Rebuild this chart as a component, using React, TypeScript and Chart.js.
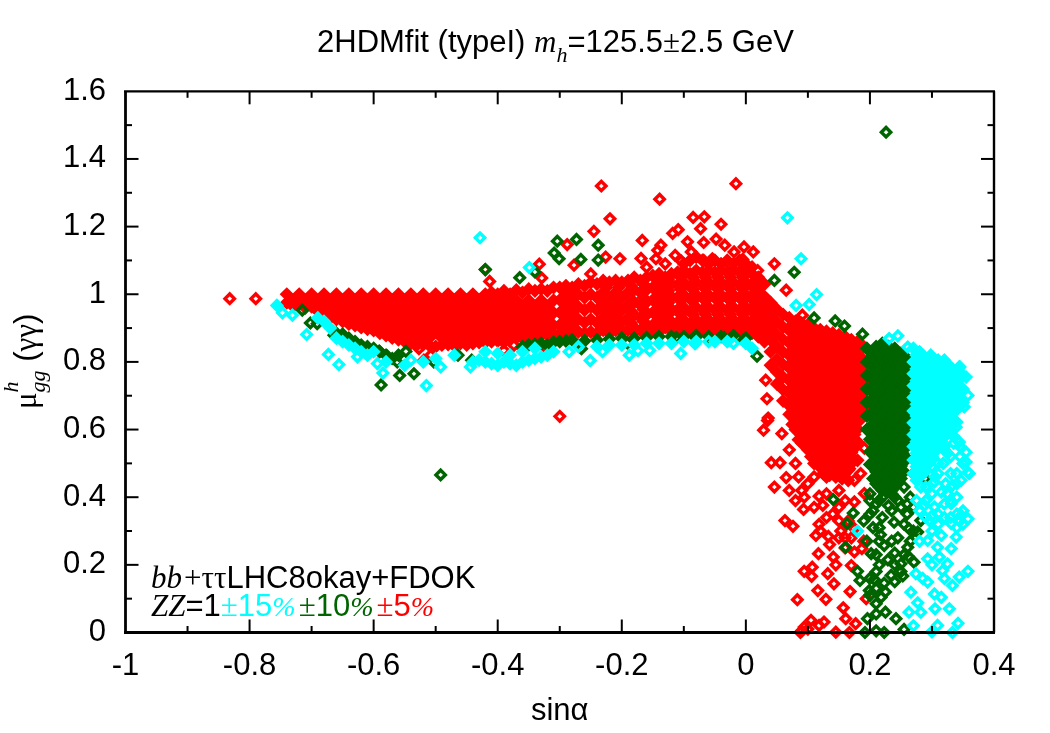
import React, { useEffect, useRef } from "react";
import { Chart, registerables } from "chart.js";

Chart.register(...registerables);

const titleRuns = ["2HDMfit (typeI) ", "m", "h", "=125.5", "±", "2.5 GeV"];
const xAxisTitle = "sinα";
const legendLine1 = ["bb", "+", "ττ", "LHC8okay+FDOK"];
const legendLine2 = ["ZZ", "=1", "±", "15", "%", "±", "10", "%", "±", "5", "%"];
const yTitleRuns = ["μ", "gg", "h", " (", "γγ", ")"];

const xTickLabels = ["-1", "-0.8", "-0.6", "-0.4", "-0.2", "0", "0.2", "0.4"];
const yTickLabels = ["0", "0.2", "0.4", "0.6", "0.8", "1", "1.2", "1.4", "1.6"];
const xMajorTicks = [-0.8, -0.6, -0.4, -0.2, 0, 0.2];
const xMinorTicks = [-0.9, -0.7, -0.5, -0.3, -0.1, 0.1, 0.3];
const yMajorTicks = [0.2, 0.4, 0.6, 0.8, 1, 1.2, 1.4];
const yMinorTicks = [0.1, 0.3, 0.5, 0.7, 0.9, 1.1, 1.3, 1.5];

// Each row: x, then the y values read at that x
const cyanCore = [
  [0.27, 0.84, 0.8, 0.765, 0.73, 0.695, 0.655, 0.62, 0.585, 0.55, 0.51, 0.47],
  [0.275, 0.82, 0.78, 0.745, 0.71, 0.675, 0.64, 0.6, 0.565, 0.53, 0.49, 0.45],
  [0.28, 0.83, 0.79, 0.755, 0.72, 0.68, 0.645, 0.61, 0.57, 0.535, 0.5, 0.46],
  [0.285, 0.82, 0.78, 0.745, 0.71, 0.67, 0.635, 0.6, 0.56, 0.525, 0.49],
  [0.29, 0.81, 0.773, 0.736, 0.699, 0.662, 0.625, 0.588, 0.551, 0.514, 0.477],
  [0.295, 0.8, 0.76, 0.72, 0.685, 0.65, 0.61, 0.575, 0.54, 0.5],
  [0.3, 0.815, 0.778, 0.741, 0.704, 0.667, 0.63, 0.593, 0.556, 0.52],
  [0.305, 0.795, 0.76, 0.725, 0.685, 0.65, 0.61, 0.575, 0.535],
  [0.31, 0.805, 0.768, 0.731, 0.694, 0.657, 0.62, 0.583, 0.546],
  [0.315, 0.785, 0.75, 0.71, 0.675, 0.64, 0.6, 0.565],
  [0.32, 0.8, 0.763, 0.726, 0.689, 0.652, 0.615, 0.578, 0.54],
  [0.325, 0.78, 0.745, 0.705, 0.67, 0.635, 0.595],
  [0.33, 0.785, 0.748, 0.711, 0.674, 0.637, 0.6],
  [0.335, 0.765, 0.73, 0.69, 0.655, 0.62, 0.58],
  [0.34, 0.77, 0.733, 0.696, 0.659, 0.622],
  [0.345, 0.785, 0.75, 0.71, 0.67],
  [0.35, 0.76, 0.72, 0.68],
  [-0.44, 0.8], [-0.43, 0.805], [-0.42, 0.8, 0.83], [-0.41, 0.795], [-0.4, 0.79, 0.825], [-0.39, 0.8],
  [-0.38, 0.795, 0.82], [-0.37, 0.79], [-0.36, 0.8, 0.83], [-0.35, 0.805], [-0.34, 0.81, 0.84], [-0.33, 0.815],
  [-0.32, 0.82], [-0.31, 0.83], [-0.69, 0.93], [-0.68, 0.92], [-0.67, 0.9], [-0.66, 0.87], [-0.65, 0.86],
  [-0.64, 0.85], [-0.63, 0.84], [-0.62, 0.83], [-0.61, 0.82], [-0.756, 0.967],
  [-0.6, 0.83], [-0.58, 0.8], [-0.55, 0.79], [-0.52, 0.8], [-0.5, 0.81], [-0.47, 0.82],
  [-0.24, 0.845], [-0.22, 0.85], [-0.2, 0.85], [-0.18, 0.85], [-0.16, 0.855], [-0.14, 0.855], [-0.12, 0.855],
  [-0.1, 0.86], [-0.08, 0.86], [-0.05, 0.86], [-0.03, 0.86], [0, 0.855], [0.01, 0.84],
];
const cyanOpen = [
  [-0.4285, 1.167], [-0.349, 1.079], [0.067, 1.226], [0.089, 1.105], [0.114, 0.999], [0.102, 0.97], [0.081, 0.967],
  [-0.747, 0.945], [-0.731, 0.938], [-0.708, 0.881], [-0.673, 0.822], [-0.656, 0.792], [-0.626, 0.815], [-0.585, 0.767],
  [-0.515, 0.73], [-0.594, 0.795], [-0.492, 0.785], [-0.54, 0.805], [-0.444, 0.785], [-0.251, 0.804], [-0.231, 0.83],
  [-0.188, 0.82], [-0.174, 0.833], [-0.155, 0.834], [-0.105, 0.825], [-0.082, 0.854], [-0.285, 0.83], [-0.27, 0.845],
  [-0.06, 0.86], [-0.02, 0.855], [0.245, 0.877], [0.231, 0.869], [0.261, 0.844], [0.344, 0.785], [0.355, 0.755],
  [0.358, 0.701], [0.352, 0.667], [0.32, 0.805], [0.298, 0.82], [0.358, 0.181], [0.344, 0.164], [0.333, 0.139],
  [0.328, 0.07], [0.342, 0.027], [0.333, 0], [0.3, 0.002], [0.309, 0.021], [0.282, 0.06], [0.263, 0.06],
  [0.277, 0.088], [0.266, 0.119], [0.293, 0.149], [0.304, 0.114], [0.315, 0.104], [0.274, 0.174], [0.293, 0.218],
  [0.317, 0.183], [0.325, 0.203], [0.312, 0.223], [0.331, 0.248], [0.309, 0.252], [0.293, 0.272], [0.315, 0.287],
  [0.339, 0.282], [0.358, 0.336], [0.347, 0.346], [0.331, 0.381], [0.304, 0.371], [0.288, 0.376], [0.296, 0.331],
  [0.331, 0.322], [0.358, 0.474], [0.347, 0.45], [0.333, 0.435], [0.315, 0.415], [0.355, 0.504], [0.355, 0.533],
  [0.344, 0.563], [0.339, 0.607], [0.347, 0.672], [0.282, 0.43], [0.304, 0.445], [0.282, 0.5], [0.318, 0.5],
  [0.33, 0.52], [0.31, 0.47], [0.322, 0.44], [0.3, 0.41], [0.34, 0.47], [0.32, 0.55], [0.335, 0.56], [0.345, 0.52],
  [0.345, 0.33], [0.32, 0.34], [0.34, 0.31], [0.35, 0.32], [0.31, 0.32], [0.29, 0.34], [0.275, 0.39], [0.28, 0.27],
  [0.3, 0.3], [0.285, 0.16], [0.3, 0.2], [0.305, 0.07], [0.32, 0.16], [0.27, 0.02], [0.18, 0.3],
  [0.3, 0.49], [0.29, 0.43], [0.31, 0.5], [0.33, 0.47], [0.34, 0.44], [0.35, 0.5], [0.36, 0.47], [0.345, 0.55],
  [0.33, 0.39], [0.32, 0.38], [0.34, 0.35], [0.33, 0.34], [0.31, 0.35], [0.3, 0.345], [0.29, 0.39], [0.28, 0.36],
  [0.35, 0.36], [0.325, 0.41], [0.34, 0.4], [0.305, 0.46], [0.325, 0.53],
];
const greenCore = [
  [0.195, 0.84, 0.8, 0.76, 0.72, 0.68, 0.64, 0.6],
  [0.2, 0.83, 0.793, 0.756, 0.719, 0.682, 0.645, 0.608, 0.571, 0.534, 0.497],
  [0.205, 0.82, 0.785, 0.75, 0.71, 0.675, 0.64, 0.6, 0.565, 0.53, 0.49, 0.455],
  [0.21, 0.845, 0.808, 0.771, 0.734, 0.697, 0.66, 0.623, 0.586, 0.549, 0.512, 0.475, 0.44],
  [0.215, 0.83, 0.795, 0.755, 0.72, 0.685, 0.645, 0.61, 0.57, 0.535, 0.5, 0.46, 0.43],
  [0.22, 0.855, 0.82, 0.783, 0.746, 0.709, 0.672, 0.635, 0.598, 0.561, 0.524, 0.487, 0.45, 0.42],
  [0.225, 0.835, 0.8, 0.765, 0.725, 0.69, 0.655, 0.615, 0.58, 0.54, 0.505, 0.47, 0.43],
  [0.23, 0.845, 0.808, 0.771, 0.734, 0.697, 0.66, 0.623, 0.586, 0.549, 0.512, 0.475, 0.44],
  [0.235, 0.825, 0.79, 0.75, 0.715, 0.68, 0.64, 0.605, 0.565, 0.53, 0.49, 0.455, 0.42],
  [0.24, 0.84, 0.803, 0.766, 0.729, 0.692, 0.655, 0.618, 0.581, 0.544, 0.507, 0.47, 0.43],
  [0.245, 0.82, 0.785, 0.745, 0.71, 0.675, 0.635, 0.6, 0.56, 0.525, 0.49, 0.45],
  [0.25, 0.825, 0.788, 0.751, 0.714, 0.677, 0.64, 0.603, 0.566, 0.529, 0.492, 0.455],
  [0.255, 0.805, 0.77, 0.73, 0.695, 0.66, 0.62, 0.585, 0.545, 0.51, 0.475],
  [0.26, 0.81, 0.773, 0.736, 0.699, 0.662, 0.625, 0.588, 0.551, 0.514],
  [0.265, 0.79, 0.75, 0.715, 0.68, 0.64, 0.605, 0.57],
  [-0.36, 0.845], [-0.35, 0.85], [-0.34, 0.852], [-0.33, 0.855], [-0.32, 0.85], [-0.31, 0.858], [-0.3, 0.86],
  [-0.29, 0.862], [-0.28, 0.865], [-0.66, 0.885], [-0.65, 0.875], [-0.64, 0.87], [-0.63, 0.86], [-0.62, 0.85],
  [-0.61, 0.845], [-0.6, 0.84], [-0.59, 0.83], [-0.58, 0.82], [-0.57, 0.81], [-0.56, 0.82],
  [-0.26, 0.862], [-0.24, 0.865], [-0.22, 0.868], [-0.2, 0.87], [-0.18, 0.87], [-0.16, 0.872], [-0.14, 0.875],
  [-0.12, 0.875], [-0.1, 0.875], [-0.08, 0.878], [-0.06, 0.875], [-0.04, 0.875], [-0.02, 0.878], [0, 0.87],
];
const greenOpen = [
  [0.226, 1.479], [-0.492, 0.466], [-0.42, 1.073], [-0.3645, 1.049], [-0.34, 1.066], [-0.304, 1.157], [-0.309, 1.122],
  [-0.301, 1.105], [-0.273, 1.162], [-0.238, 1.145], [-0.266, 1.103], [-0.238, 1.101], [0.078, 1.065], [0.046, 1.041],
  [0.11, 0.93], [0.144, 0.921], [0.159, 0.906], [0.188, 0.882], [-0.588, 0.732], [-0.558, 0.76], [-0.535, 0.765],
  [-0.562, 0.8], [-0.578, 0.817], [-0.605, 0.834], [-0.591, 0.832], [-0.548, 0.831], [-0.503, 0.8], [-0.464, 0.82],
  [-0.442, 0.805], [-0.664, 0.879], [-0.65, 0.882], [-0.702, 0.915], [-0.715, 0.953], [-0.691, 0.913],
  [-0.265, 0.839], [-0.191, 0.856], [-0.112, 0.872], [-0.081, 0.872], [-0.035, 0.872], [-0.004, 0.864], [0.018, 0.817],
  [0.141, 0.393], [0.173, 0.353], [0.163, 0.322], [0.217, 0.289], [0.161, 0.252], [0.202, 0.233], [0.223, 0.257],
  [0.245, 0.28], [0.263, 0.307], [0.239, 0.326], [0.282, 0.331], [0.277, 0.297], [0.261, 0.252], [0.271, 0.208],
  [0.229, 0.215], [0.25, 0.203], [0.253, 0.167], [0.234, 0.169], [0.18, 0.181], [0.184, 0.154], [0.207, 0.157],
  [0.223, 0.146], [0.199, 0.124], [0.218, 0.104], [0.21, 0.085], [0.242, 0.041], [0.21, 0.055], [0.196, 0.041],
  [0.255, 0.009], [0.192, 0], [0.223, 0], [0.21, 0.005], [0.265, 0.4], [0.289, 0.455], [0.28, 0.504], [0.253, 0.529],
  [0.278, 0.647], [0.28, 0.603], [0.287, 0.782], [0.279, 0.826], [0.287, 0.696], [0.276, 0.648], [0.27, 0.47],
  [0.215, 0.39], [0.23, 0.375], [0.245, 0.39], [0.205, 0.36], [0.22, 0.34], [0.26, 0.35], [0.205, 0.31], [0.195, 0.27],
  [0.24, 0.235], [0.262, 0.225], [0.215, 0.2], [0.21, 0.18], [0.24, 0.15], [0.2, 0.41], [0.235, 0.41], [0.255, 0.43],
  [0.2, 0.39], [0.21, 0.38], [0.22, 0.4], [0.24, 0.4], [0.25, 0.37], [0.26, 0.38], [0.27, 0.37], [0.235, 0.36],
  [0.2, 0.35], [0.19, 0.33], [0.255, 0.32], [0.215, 0.31], [0.27, 0.3], [0.265, 0.27], [0.215, 0.27], [0.235, 0.27],
  [0.21, 0.23], [0.255, 0.23], [0.24, 0.2], [0.25, 0.18], [0.21, 0.13], [0.2, 0.11], [0.2, 0.16], [0.225, 0.12], [0.225, 0.06],
];
const redBandLeft = [
  [-0.74, 1, 0.975], [-0.73, 0.982, 0.965], [-0.72, 1, 0.97], [-0.71, 0.982, 0.96], [-0.7, 1, 0.963],
  [-0.69, 0.982, 0.95], [-0.68, 1, 0.963, 0.94], [-0.67, 0.982, 0.945, 0.93], [-0.66, 1, 0.963, 0.926],
  [-0.65, 0.982, 0.945, 0.92], [-0.64, 1, 0.963, 0.926, 0.912], [-0.63, 0.982, 0.945, 0.908],
  [-0.62, 1, 0.963, 0.926, 0.902], [-0.61, 0.982, 0.945, 0.908, 0.897], [-0.6, 1, 0.963, 0.926, 0.893],
  [-0.59, 0.982, 0.945, 0.908, 0.885], [-0.58, 1, 0.963, 0.926, 0.889, 0.878], [-0.57, 0.982, 0.945, 0.908, 0.871],
  [-0.56, 1, 0.963, 0.926, 0.889, 0.866], [-0.55, 0.982, 0.945, 0.908, 0.871, 0.86],
  [-0.54, 1, 0.963, 0.926, 0.889, 0.855], [-0.53, 0.982, 0.945, 0.908, 0.871, 0.85],
  [-0.52, 1, 0.963, 0.926, 0.889, 0.852], [-0.51, 0.982, 0.945, 0.908, 0.871, 0.848],
];
const redBandMiddle = [
  [-0.5, 1, 0.963, 0.926, 0.889, 0.845], [-0.49, 0.982, 0.945, 0.908, 0.871, 0.85],
  [-0.48, 1, 0.963, 0.926, 0.889, 0.852], [-0.47, 0.982, 0.945, 0.908, 0.871, 0.848],
  [-0.46, 1, 0.963, 0.926, 0.889, 0.855], [-0.45, 0.982, 0.945, 0.908, 0.871, 0.85],
  [-0.44, 1, 0.963, 0.926, 0.889, 0.855], [-0.43, 0.982, 0.945, 0.908, 0.871, 0.858],
  [-0.42, 1, 0.963, 0.926, 0.889, 0.858], [-0.41, 1.005, 0.982, 0.945, 0.908, 0.871, 0.86],
  [-0.4, 1, 0.963, 0.926, 0.889, 0.862], [-0.39, 1.01, 0.982, 0.945, 0.908, 0.871, 0.858],
  [-0.38, 1, 0.963, 0.926, 0.889, 0.866], [-0.37, 1.012, 0.982, 0.945, 0.908, 0.871],
  [-0.36, 1.005, 0.963, 0.926, 0.889, 0.87], [-0.35, 1.015, 0.982, 0.945, 0.908, 0.875],
  [-0.34, 1.01, 0.963, 0.926, 0.889, 0.875], [-0.33, 1.015, 0.982, 0.945, 0.908, 0.878],
  [-0.32, 1.01, 0.963, 0.926, 0.889, 0.88], [-0.31, 1.02, 0.982, 0.945, 0.908, 0.882],
  [-0.3, 1.02, 0.983, 0.946, 0.909, 0.885], [-0.29, 1.025, 1, 0.963, 0.926, 0.889],
  [-0.28, 1.02, 0.983, 0.946, 0.909, 0.885], [-0.27, 1.03, 1, 0.963, 0.926, 0.889],
  [-0.26, 1.025, 0.99, 0.953, 0.916, 0.885], [-0.25, 1.035, 1, 0.963, 0.926, 0.889],
];
const redBandRight = [
  [-0.24, 1.03, 0.99, 0.953, 0.916, 0.885], [-0.23, 1.04, 1.005, 0.968, 0.931, 0.894],
  [-0.22, 1.035, 0.99, 0.953, 0.916, 0.885], [-0.21, 1.04, 1.005, 0.968, 0.931, 0.894],
  [-0.2, 1.035, 0.99, 0.953, 0.916, 0.888], [-0.19, 1.04, 1.005, 0.968, 0.931, 0.894],
  [-0.18, 1.05, 1.013, 0.976, 0.939, 0.902, 0.888], [-0.17, 1.04, 1.005, 0.968, 0.931, 0.894],
  [-0.16, 1.05, 1.013, 0.976, 0.939, 0.902, 0.888], [-0.15, 1.055, 1.02, 0.983, 0.946, 0.909, 0.89],
  [-0.14, 1.06, 1.03, 0.993, 0.956, 0.919, 0.89], [-0.13, 1.05, 1.013, 0.976, 0.939, 0.902],
  [-0.12, 1.06, 1.03, 0.993, 0.956, 0.919, 0.89], [-0.11, 1.065, 1.028, 0.991, 0.954, 0.917, 0.892],
  [-0.1, 1.07, 1.035, 0.998, 0.961, 0.924, 0.895], [-0.09, 1.06, 1.023, 0.986, 0.949, 0.912, 0.893],
  [-0.08, 1.07, 1.035, 0.998, 0.961, 0.924, 0.895], [-0.07, 1.065, 1.028, 0.991, 0.954, 0.917, 0.893],
  [-0.06, 1.07, 1.035, 0.998, 0.961, 0.924, 0.895], [-0.05, 1.065, 1.028, 0.991, 0.954, 0.917, 0.893],
  [-0.04, 1.07, 1.035, 0.998, 0.961, 0.924, 0.89], [-0.03, 1.065, 1.028, 0.991, 0.954, 0.917, 0.893],
  [-0.02, 1.07, 1.035, 0.998, 0.961, 0.924, 0.89], [-0.01, 1.065, 1.028, 0.991, 0.954, 0.917, 0.893],
  [0, 1.07, 1.035, 0.998, 0.961, 0.924, 0.89], [0.01, 1.06, 1.023, 0.986, 0.949, 0.912, 0.885],
  [0.02, 1.05, 1.013, 0.976, 0.939, 0.902, 0.875], [0.03, 1.03, 0.993, 0.956, 0.919, 0.882, 0.86],
];
const redBandFill = [
  [-0.225, 1.02, 0.975, 0.94, 0.905], [-0.205, 1.02, 0.985, 0.95, 0.91], [-0.185, 1.025, 0.985, 0.95, 0.915],
  [-0.165, 1.03, 0.99, 0.955, 0.92], [-0.145, 1.045, 1.01, 0.975, 0.94, 0.905], [-0.125, 1.045, 1.01, 0.975, 0.94, 0.905],
  [-0.105, 1.05, 1.015, 0.98, 0.94, 0.905], [-0.085, 1.05, 1.015, 0.98, 0.94, 0.905], [-0.065, 1.05, 1.015, 0.98, 0.94, 0.905],
  [-0.045, 1.05, 1.015, 0.98, 0.94, 0.905], [-0.025, 1.05, 1.015, 0.98, 0.94, 0.905], [-0.005, 1.05, 1.015, 0.98, 0.94, 0.905],
  [0.015, 1.04, 1.005, 0.97, 0.93, 0.895], [-0.1, 1.09], [-0.09, 1.1], [-0.08, 1.11], [-0.07, 1.1], [-0.06, 1.09],
  [-0.05, 1.1], [-0.04, 1.09], [-0.03, 1.1], [-0.02, 1.09], [-0.01, 1.1], [0, 1.09], [0.01, 1.08],
];
const redWedge = [
  [0.04, 0.975, 0.938, 0.901, 0.864, 0.83, 0.79],
  [0.05, 0.955, 0.918, 0.881, 0.844, 0.807, 0.77, 0.735],
  [0.06, 0.94, 0.903, 0.866, 0.829, 0.792, 0.755, 0.718, 0.685],
  [0.07, 0.93, 0.893, 0.856, 0.819, 0.782, 0.745, 0.708, 0.671, 0.645],
  [0.075, 0.91, 0.87, 0.835, 0.8, 0.76, 0.725, 0.69, 0.65, 0.615],
  [0.08, 0.92, 0.885, 0.848, 0.811, 0.774, 0.737, 0.7, 0.663, 0.626, 0.6],
  [0.085, 0.9, 0.865, 0.83, 0.79, 0.755, 0.72, 0.68, 0.645, 0.605, 0.57],
  [0.09, 0.915, 0.878, 0.841, 0.804, 0.767, 0.73, 0.693, 0.656, 0.619, 0.582, 0.56],
  [0.095, 0.895, 0.86, 0.82, 0.785, 0.75, 0.71, 0.675, 0.635, 0.6, 0.56],
  [0.1, 0.91, 0.873, 0.836, 0.799, 0.762, 0.725, 0.688, 0.651, 0.614, 0.577, 0.54],
  [0.105, 0.89, 0.855, 0.815, 0.78, 0.745, 0.705, 0.67, 0.63, 0.595, 0.56, 0.52],
  [0.11, 0.9, 0.863, 0.826, 0.789, 0.752, 0.715, 0.678, 0.641, 0.604, 0.567, 0.53, 0.5],
  [0.115, 0.88, 0.845, 0.81, 0.77, 0.735, 0.7, 0.66, 0.625, 0.585, 0.55, 0.51],
  [0.12, 0.895, 0.858, 0.821, 0.784, 0.747, 0.71, 0.673, 0.636, 0.599, 0.562, 0.525, 0.488],
  [0.125, 0.875, 0.84, 0.8, 0.765, 0.73, 0.69, 0.655, 0.62, 0.58, 0.545, 0.505, 0.47],
  [0.13, 0.89, 0.853, 0.816, 0.779, 0.742, 0.705, 0.668, 0.631, 0.594, 0.557, 0.52, 0.483, 0.46],
  [0.135, 0.87, 0.83, 0.795, 0.76, 0.72, 0.685, 0.65, 0.61, 0.575, 0.54, 0.5, 0.465],
  [0.14, 0.885, 0.848, 0.811, 0.774, 0.737, 0.7, 0.663, 0.626, 0.589, 0.552, 0.515, 0.478],
  [0.145, 0.86, 0.825, 0.79, 0.75, 0.715, 0.68, 0.64, 0.605, 0.57, 0.53, 0.495, 0.46],
  [0.15, 0.88, 0.843, 0.806, 0.769, 0.732, 0.695, 0.658, 0.621, 0.584, 0.547, 0.51, 0.473],
  [0.155, 0.855, 0.82, 0.785, 0.745, 0.71, 0.675, 0.635, 0.6, 0.565, 0.525, 0.49, 0.455],
  [0.16, 0.875, 0.838, 0.801, 0.764, 0.727, 0.69, 0.653, 0.616, 0.579, 0.542, 0.505, 0.47],
  [0.165, 0.85, 0.81, 0.775, 0.74, 0.7, 0.665, 0.63, 0.59, 0.555, 0.515, 0.48, 0.45],
  [0.17, 0.865, 0.828, 0.791, 0.754, 0.717, 0.68, 0.643, 0.606, 0.569, 0.532, 0.5],
  [0.175, 0.84, 0.805, 0.77, 0.73, 0.695, 0.66, 0.62, 0.585, 0.545, 0.51],
  [0.18, 0.86, 0.823, 0.786, 0.749, 0.712, 0.675, 0.638, 0.601, 0.564],
  [0.185, 0.85, 0.81, 0.775, 0.74, 0.7, 0.665, 0.63],
  [0.19, 0.845, 0.805, 0.77, 0.735, 0.695, 0.66],
];
const redOpen = [
  [-0.832, 0.987], [-0.79, 0.987], [-0.42, 1.073], [-0.413, 1.038], [-0.333, 1.089], [-0.329, 1.048], [-0.3, 0.639],
  [-0.519, 0.805], [-0.527, 0.839], [-0.508, 0.82], [-0.39, 0.834], [-0.374, 0.849], [-0.36, 0.839], [-0.321, 0.839],
  [-0.233, 1.32], [-0.016, 1.327], [-0.139, 1.281], [-0.219, 1.223], [-0.245, 1.186], [-0.085, 1.227], [-0.067, 1.229],
  [-0.04, 1.207], [-0.073, 1.194], [-0.118, 1.18], [-0.109, 1.191], [-0.167, 1.159], [-0.288, 1.147], [-0.226, 1.11],
  [-0.203, 1.105], [-0.277, 1.086], [-0.137, 1.145], [-0.142, 1.13], [-0.094, 1.155], [-0.068, 1.153], [-0.048, 1.163],
  [-0.034, 1.145], [-0.019, 1.125], [-0.003, 1.14], [0.012, 1.125], [-0.005, 1.103], [0.046, 1.09], [0.065, 1.012],
  [0.091, 0.938], [-0.114, 1.115], [-0.104, 1.098], [-0.088, 1.125], [-0.145, 1.105], [-0.169, 1.106], [-0.054, 1.105],
  [-0.068, 1.1], [-0.035, 1.077], [-0.008, 1.07], [0.019, 1.07], [-0.16, 1.08], [-0.13, 1.09], [-0.25, 1.06],
  [0.032, 0.746], [0.034, 0.691], [0.036, 0.634], [0.0285, 0.598], [0.035, 0.627], [0.058, 0.588], [0.041, 0.502],
  [0.055, 0.502], [0.046, 0.43], [0.065, 0.458], [0.07, 0.42], [0.093, 0.364], [0.063, 0.331], [0.076, 0.314],
  [0.113, 0.287], [0.133, 0.284], [0.118, 0.32], [0.124, 0.376], [0.118, 0.403], [0.094, 0.4], [0.117, 0.233],
  [0.094, 0.181], [0.107, 0.193], [0.106, 0.166], [0.132, 0.174], [0.142, 0.144], [0.116, 0.124], [0.129, 0.098],
  [0.083, 0.097], [0.168, 0.121], [0.194, 0.1], [0.157, 0.073], [0.17, 0.198], [0.141, 0.223], [0.153, 0.3],
  [0.175, 0.307], [0.187, 0.248], [0.175, 0.238], [0.191, 0.411], [0.175, 0.386], [0.105, 0.036], [0.088, 0],
  [0.094, 0.016], [0.126, 0.031], [0.145, 0.001], [0.167, 0], [0.177, 0.026], [0.161, 0.041], [0.118, 0.021],
  [0.191, 0.545], [0.18, 0.509], [0.167, 0.484], [0.175, 0.45], [0.185, 0.47], [0.08, 0.5], [0.07, 0.54], [0.085, 0.46],
  [0.1, 0.44], [0.11, 0.46], [0.09, 0.42], [0.08, 0.39], [0.13, 0.41], [0.15, 0.42], [0.16, 0.39], [0.11, 0.37],
  [0.14, 0.35], [0.15, 0.33], [0.16, 0.28], [0.135, 0.26], [0.145, 0.2], [0.15, 0.28], [0.1, 0.01], [0.09, 0.005],
  [0.165, 0.33], [0.17, 0.28], [0.16, 0.25], [0.19, 0.27], [0.15, 0.37], [0.13, 0.34], [0.12, 0.3],
];

const toPoints = (rows: number[][]) => rows.flatMap(([x, ...ys]) => ys.map((y) => ({ x, y })));

const SANS = '"Liberation Sans"';
const SERIF = '"Liberation Serif"';
const CYAN = "#00ffff";
const GREEN = "#006400";
const RED = "#ff0000";

type Run = { t: string; font: string; color?: string; dy?: number; gap?: number; stay?: boolean };

function drawRuns(ctx: CanvasRenderingContext2D, runs: Run[], x: number, y: number) {
  let cx = x;
  for (const r of runs) {
    cx += r.gap ?? 0;
    ctx.font = r.font;
    ctx.fillStyle = r.color ?? "#000000";
    ctx.fillText(r.t, cx, y + (r.dy ?? 0));
    if (!r.stay) cx += ctx.measureText(r.t).width;
  }
}

const framePlugin = {
  id: "gnuplotFrame",
  afterDatasetsDraw(chart: any) {
    const { ctx, chartArea: a, scales } = chart;
    ctx.save();
    ctx.strokeStyle = "#000000";
    const line = (x1: number, y1: number, x2: number, y2: number, w: number) => {
      ctx.lineWidth = w;
      ctx.beginPath();
      ctx.moveTo(x1, y1);
      ctx.lineTo(x2, y2);
      ctx.stroke();
    };
    const tickX = (v: number, len: number) => {
      const p = scales.x.getPixelForValue(v);
      line(p, a.bottom, p, a.bottom - len, 2);
      line(p, a.top, p, a.top + len, 2);
    };
    const tickY = (v: number, len: number) => {
      const p = scales.y.getPixelForValue(v);
      line(a.left, p, a.left + len, p, 2);
      line(a.right, p, a.right - len, p, 2);
    };
    xMajorTicks.forEach((v) => tickX(v, 13));
    xMinorTicks.forEach((v) => tickX(v, 6.5));
    yMajorTicks.forEach((v) => tickY(v, 13));
    yMinorTicks.forEach((v) => tickY(v, 6.5));
    line(a.left - 1.5, a.top, a.right + 1, a.top, 2.2);
    line(a.left - 1.5, a.bottom, a.right + 1, a.bottom, 2.8);
    line(a.left, a.top, a.left, a.bottom, 2.8);
    line(a.right, a.top, a.right, a.bottom, 2.4);

    ctx.textBaseline = "alphabetic";
    ctx.textAlign = "left";
    const sans = `31px ${SANS}`;
    const serif = `31px ${SERIF}`;
    const italic = `italic 31px ${SERIF}`;
    const italicSmall = `italic 22px ${SERIF}`;
    drawRuns(
      ctx,
      [
        { t: titleRuns[0], font: sans },
        { t: titleRuns[1], font: italic },
        { t: titleRuns[2], font: italicSmall, dy: 10 },
        { t: titleRuns[3], font: sans },
        { t: titleRuns[4], font: serif },
        { t: titleRuns[5], font: sans },
      ],
      317,
      52
    );
    drawRuns(
      ctx,
      [
        { t: legendLine1[0], font: italic },
        { t: legendLine1[1], font: serif, gap: 2 },
        { t: legendLine1[2], font: serif },
        { t: legendLine1[3], font: sans },
      ],
      151,
      588
    );
    const pct = `italic 28px ${SERIF}`;
    drawRuns(
      ctx,
      [
        { t: legendLine2[0], font: italic },
        { t: legendLine2[1], font: sans },
        { t: legendLine2[2], font: serif, color: CYAN },
        { t: legendLine2[3], font: sans, color: CYAN },
        { t: legendLine2[4], font: pct, color: CYAN },
        { t: legendLine2[5], font: serif, color: GREEN, gap: 3 },
        { t: legendLine2[6], font: sans, color: GREEN },
        { t: legendLine2[7], font: pct, color: GREEN },
        { t: legendLine2[8], font: serif, color: RED, gap: 3 },
        { t: legendLine2[9], font: sans, color: RED },
        { t: legendLine2[10], font: pct, color: RED },
      ],
      151,
      616
    );
    ctx.save();
    ctx.translate(36, 409);
    ctx.rotate(-Math.PI / 2);
    drawRuns(
      ctx,
      [
        { t: yTitleRuns[0], font: serif },
        { t: yTitleRuns[2], font: italicSmall, dy: -18, stay: true },
        { t: yTitleRuns[1], font: italicSmall, dy: 9 },
        { t: yTitleRuns[3], font: sans },
        { t: yTitleRuns[4], font: serif },
        { t: yTitleRuns[5], font: sans },
      ],
      0,
      0
    );
    ctx.restore();
    ctx.restore();
  },
};

const openSet = (data: number[][], color: string) => ({
  data: toPoints(data),
  borderColor: color,
  backgroundColor: "rgba(0,0,0,0)",
  pointStyle: "rectRot",
  pointRadius: 4.7,
  pointBorderWidth: 3.4,
  showLine: false,
  clip: false,
});
const coreSet = (data: number[][], color: string) => ({
  ...openSet(data, color),
  backgroundColor: color,
});

export default function App() {
  const ref = useRef<HTMLCanvasElement | null>(null);
  useEffect(() => {
    document.body.style.margin = "0";
    const chart = new Chart(ref.current as HTMLCanvasElement, {
      type: "scatter",
      data: {
        datasets: [
          coreSet(cyanCore, CYAN),
          openSet(cyanOpen, CYAN),
          coreSet(greenCore, GREEN),
          openSet(greenOpen, GREEN),
          coreSet([...redBandLeft, ...redBandMiddle, ...redBandRight, ...redBandFill, ...redWedge], RED),
          openSet(redOpen, RED),
        ] as any,
      },
      options: {
        responsive: false,
        animation: false,
        events: [],
        layout: { padding: { top: 91.3, right: 56, left: 0, bottom: 0 } },
        plugins: { legend: { display: false }, tooltip: { enabled: false }, title: { display: false } },
        scales: {
          x: {
            type: "linear",
            min: -1,
            max: 0.4,
            afterFit: (s: any) => {
              s.height = 100.5;
            },
            grid: { display: false },
            border: { display: false },
            ticks: {
              stepSize: 0.2,
              autoSkip: false,
              maxRotation: 0,
              padding: 7,
              color: "#000000",
              font: { family: "Liberation Sans", size: 31 },
              callback: (_v: any, i: number) => xTickLabels[i],
            },
            title: {
              display: true,
              text: xAxisTitle,
              color: "#000000",
              font: { family: "Liberation Sans", size: 31 },
              padding: { top: 0, bottom: 3 },
            },
          },
          y: {
            type: "linear",
            min: 0,
            max: 1.6,
            afterFit: (s: any) => {
              s.width = 125.5;
            },
            grid: { display: false },
            border: { display: false },
            ticks: {
              stepSize: 0.2,
              autoSkip: false,
              padding: 11.5,
              color: "#000000",
              font: { family: "Liberation Sans", size: 31 },
              callback: (_v: any, i: number) => yTickLabels[i],
            },
          },
        },
      },
      plugins: [framePlugin],
    } as any);
    return () => chart.destroy();
  }, []);
  return <canvas ref={ref} width={1050} height={733} style={{ display: "block" }} />;
}
